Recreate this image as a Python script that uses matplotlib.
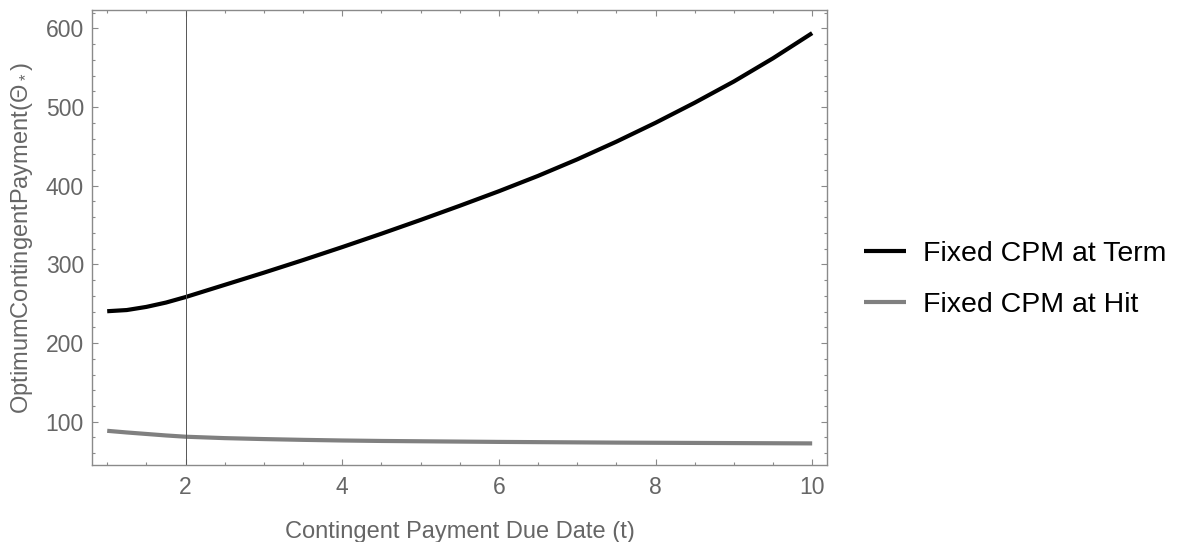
import matplotlib
matplotlib.use("Agg")
import matplotlib.pyplot as plt
from matplotlib.ticker import MultipleLocator

# --- data ---
due_date = [1, 1.25, 1.5, 1.75, 2, 2.5, 3, 3.5, 4, 4.5, 5, 5.5, 6, 6.5, 7, 7.5, 8, 8.5,
            9, 9.5, 10]
cpm_term = [240.5, 242, 246, 251.5, 258.5, 274, 289.5, 305.5, 322, 339, 356.5, 374.5,
            393, 412.5, 433.5, 456, 480, 505.5, 532.5, 562, 594]
cpm_hit = [88.5, 86.4, 84.5, 82.6, 81, 79.2, 78, 77, 76.2, 75.6, 75.2, 74.8, 74.4, 74.1,
           73.8, 73.5, 73.3, 73.1, 72.9, 72.7, 72.5]
marker_t = 2

plt.rcParams["font.family"] = ["Liberation Sans", "DejaVu Sans"]
plt.rcParams["mathtext.fontset"] = "custom"
plt.rcParams["mathtext.rm"] = "Liberation Sans"

fig = plt.figure(figsize=(11.82, 5.42), dpi=100)
ax = fig.add_axes([0.0781, 0.142, 0.6216, 0.839])

# curves
ax.plot(due_date, cpm_term, color="black", lw=3.0, label="Fixed CPM at Term",
        solid_capstyle="butt", solid_joinstyle="round")
ax.plot(due_date, cpm_hit, color="#808080", lw=3.0, label="Fixed CPM at Hit",
        solid_capstyle="butt", solid_joinstyle="round")
ax.axvline(marker_t, color="#555555", lw=0.7)

ax.set_xlim(0.81, 10.19)
ax.set_ylim(45, 623)

# frame + ticks, mathematica style
frame_col = "#8a8a8a"
for sp in ax.spines.values():
    sp.set_color(frame_col)
    sp.set_linewidth(1.0)
ax.xaxis.set_major_locator(MultipleLocator(2))
ax.xaxis.set_minor_locator(MultipleLocator(0.5))
ax.yaxis.set_major_locator(MultipleLocator(100))
ax.yaxis.set_minor_locator(MultipleLocator(20))
ax.tick_params(which="both", direction="in", top=True, right=True, color=frame_col,
               labelcolor="#666666", labelsize=16.5, pad=6)
ax.tick_params(axis="x", which="both", pad=8)
ax.tick_params(which="major", length=4.5, width=0.8)
ax.tick_params(which="minor", length=2.5, width=0.8)

ax.set_xlabel("Contingent Payment Due Date (t)", fontsize=17, color="#666666", labelpad=16)
ax.set_ylabel("OptimumContingentPayment(Θ$_*$)", fontsize=17, color="#666666", labelpad=8)

fig.legend(loc="center left", bbox_to_anchor=(0.709, 0.4845), frameon=False, fontsize=20.5,
           handlelength=1.5, handletextpad=0.6, labelspacing=0.9)

fig.savefig("out.png", dpi=100)
